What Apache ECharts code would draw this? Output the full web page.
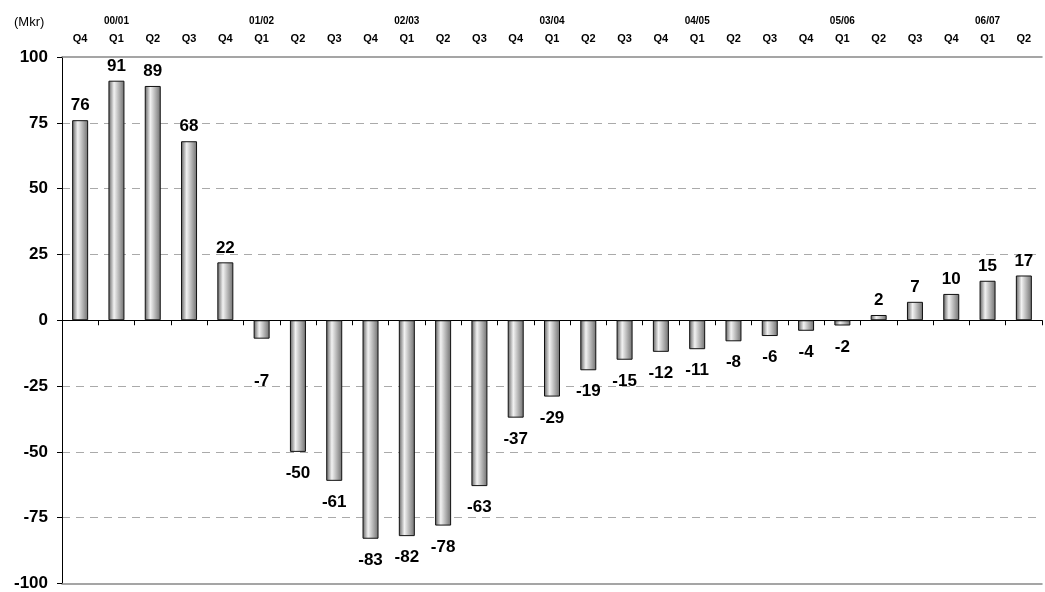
<!DOCTYPE html>
<html><head><meta charset="utf-8">
<script src="https://cdn.jsdelivr.net/npm/echarts@6/dist/echarts.min.js"></script>
<style>html,body{margin:0;padding:0;background:#fff}#c{width:1045px;height:592px}</style>
</head><body><div id="c"></div>
<script>
const quarters = ['Q4','Q1','Q2','Q3','Q4','Q1','Q2','Q3','Q4','Q1','Q2','Q3','Q4','Q1','Q2','Q3','Q4','Q1','Q2','Q3','Q4','Q1','Q2','Q3','Q4','Q1','Q2'];
const years = ['','00/01','','','','01/02','','','','02/03','','','','03/04','','','','04/05','','','','05/06','','','','06/07',''];
const values = [76,91,89,68,22,-7,-50,-61,-83,-82,-78,-63,-37,-29,-19,-15,-12,-11,-8,-6,-4,-2,2,7,10,15,17];
const yTicks = [-100,-75,-50,-25,0,25,50,75,100];

const cats = quarters.map((q,i)=>i+'');
const font = 'Liberation Sans, Arial, sans-serif';
const grad = {type:'linear',x:0,y:0,x2:1,y2:0,colorStops:[
  {offset:0,color:'#5e5e5e'},{offset:0.35,color:'#f2f2f2'},{offset:1,color:'#6e6e6e'}]};

const data = values.map((v,i)=>{
  const item = {value:v};
  if (v < 0) item.label = {distance: i === 5 ? 34 : 13};
  return item;
});

const chart = echarts.init(document.getElementById('c'));
chart.setOption({
  animation:false,
  textStyle:{fontFamily:font},
  grid:{left:62,right:3,top:57,bottom:6},
  graphic:[{type:'text',left:14,top:16,style:{text:'(Mkr)',font:'13px '+font,fill:'#000'}}],
  xAxis:[
    {type:'category',data:cats,position:'bottom',axisLine:{onZero:true,lineStyle:{color:'#000',width:1}},
     axisTick:{show:true,length:5,lineStyle:{color:'#000'}},axisLabel:{show:false},splitLine:{show:false}},
    {type:'category',data:quarters,position:'top',axisLine:{onZero:false,lineStyle:{color:'#888',width:1.5}},
     axisTick:{show:false},axisLabel:{show:true,interval:0,fontSize:11,fontWeight:'bold',color:'#000',margin:13}},
    {type:'category',data:years,position:'top',offset:18,axisLine:{show:false},
     axisTick:{show:false},axisLabel:{show:true,interval:0,fontSize:10,fontWeight:'bold',color:'#000',margin:13}},
    {type:'category',data:cats,position:'bottom',axisLine:{onZero:false,lineStyle:{color:'#888',width:1.5}},
     axisTick:{show:false},axisLabel:{show:false}}
  ],
  yAxis:{type:'value',min:-100,max:100,interval:25,
    axisLine:{show:true,lineStyle:{color:'#000'}},
    axisTick:{show:true,length:5,lineStyle:{color:'#000'}},
    axisLabel:{fontSize:17,fontWeight:'bold',color:'#000',margin:14,
      formatter:v=>yTicks.includes(v)?String(v):''},
    splitLine:{show:true,lineStyle:{color:'#aaa',type:[8,6],width:1},
      showMinLine:false,showMaxLine:false}},
  series:[{type:'bar',xAxisIndex:0,data:data,barWidth:16,
    itemStyle:{color:grad,borderColor:'#111',borderWidth:1},
    label:{show:true,fontSize:17,fontWeight:'bold',color:'#000',distance:6,
      position:'outside',formatter:p=>String(p.value)}}]
});
</script></body></html>
